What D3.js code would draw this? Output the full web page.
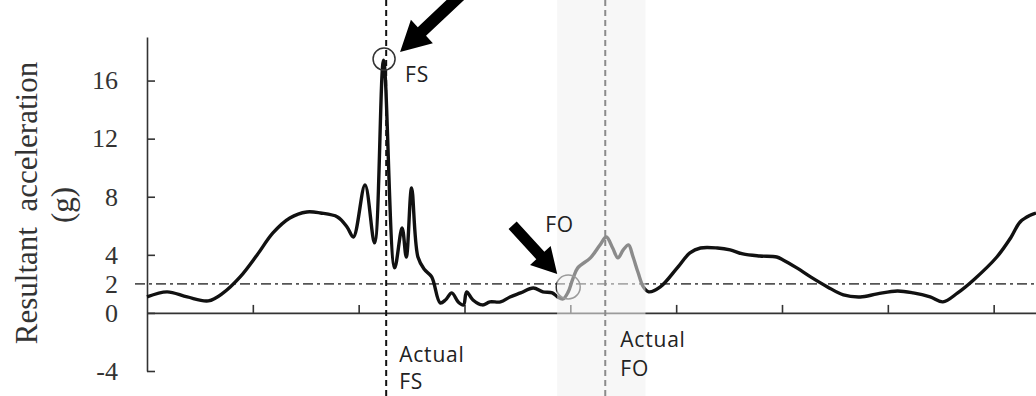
<!doctype html>
<html lang="en">
<head>
<meta charset="utf-8">
<title>Resultant acceleration</title>
<script src="https://cdn.jsdelivr.net/npm/d3@7"></script>
<style>
  body { margin: 0; background: #fff; }
  svg { display: block; }
</style>
</head>
<body>
<svg id="chart" width="1036" height="396"></svg>
<script>
// time (tick units) and resultant acceleration (g)
var times = [0, 0.19, 0.38, 0.58, 0.72, 0.88, 1.04, 1.19, 1.35, 1.51, 1.64, 1.80, 1.89, 1.95,
  2.06, 2.15, 2.235, 2.34, 2.41, 2.45, 2.50, 2.56, 2.62, 2.69, 2.77, 2.82, 2.88, 2.94, 2.99, 3.02,
  3.08, 3.17, 3.24, 3.34, 3.43, 3.53, 3.65, 3.74, 3.83, 3.88,
  3.93, 3.98, 4.02, 4.07, 4.19, 4.28, 4.34, 4.40, 4.45, 4.50, 4.55, 4.59, 4.64, 4.69, 4.74,
  4.85, 5.01, 5.13, 5.23, 5.39, 5.51, 5.63, 5.79, 5.95, 6.01, 6.14, 6.27, 6.43, 6.58, 6.74,
  6.90, 7.09, 7.24, 7.40, 7.52, 7.66, 7.81, 8.03, 8.16, 8.25, 8.35, 8.40];
var accel = [1.10, 1.45, 1.10, 0.83, 1.38, 2.48, 3.99, 5.51, 6.54, 6.95, 6.88, 6.61, 5.92, 5.23,
  8.81, 4.82, 17.4, 3.10, 5.85, 3.85, 8.60, 3.85, 3.00, 2.48, 0.69, 0.89, 1.38, 0.76, 0.55, 1.45,
  0.89, 0.55, 0.76, 0.76, 1.10, 1.38, 1.72, 1.45, 1.38, 1.10,
  0.96, 1.45, 2.27, 3.10, 3.79, 4.68, 5.23, 4.47, 3.79, 4.34, 4.68, 3.92, 2.78, 1.79, 1.45,
  1.79, 3.10, 4.13, 4.47, 4.47, 4.34, 4.06, 3.92, 3.85, 3.65, 3.10, 2.48, 1.79, 1.24, 1.10,
  1.31, 1.51, 1.38, 1.10, 0.76, 1.38, 2.27, 3.85, 5.16, 6.26, 6.74, 6.88];

var yTicks = [16, 12, 8, 4, 2, 0, -4];
var xTicks = [1, 2, 3, 4, 5, 6, 7, 8];
var threshold = 2;
var actualFS = 2.26, actualFO = 4.33;
var foWindow = [3.875, 4.71];
var detectedFS = [2.24, 17.48], detectedFO = [3.98, 1.79];

var svg = d3.select("#chart");
var x = d3.scaleLinear().domain([0, 8.4]).range([147, 1036]);
var y = d3.scaleLinear().domain([-4, 19]).range([371, 37]);
var data = times.map((t, i) => [t, accel[i]]);

// axes
var yAxis = svg.append("g").attr("transform", `translate(${x(0)},0)`)
  .call(d3.axisLeft(y).tickValues(yTicks).tickSize(-8).tickSizeOuter(0).tickPadding(29)
    .tickFormat(d => String(d)));
yAxis.selectAll(".tick").filter(d => d === 2).select("line").remove();
yAxis.selectAll(".tick text").attr("font-family", "'Liberation Serif', serif")
  .attr("font-size", 26).attr("fill", "#333");
var xAxis = svg.append("g").attr("transform", `translate(0,${y(0)})`)
  .call(d3.axisBottom(x).tickValues(xTicks).tickSize(-8).tickSizeOuter(0).tickFormat(""));
svg.selectAll(".domain, .tick line").attr("stroke", "#333").attr("stroke-width", 1.6);

// threshold line
svg.append("line").attr("x1", 135).attr("x2", 1036)
  .attr("y1", y(threshold)).attr("y2", y(threshold))
  .attr("stroke", "#555").attr("stroke-width", 1.6).attr("stroke-dasharray", "10,4,3,4");

// vertical event lines
[actualFS, actualFO].forEach(v => {
  svg.append("line").attr("x1", x(v)).attr("x2", x(v)).attr("y1", 0).attr("y2", 396)
    .attr("stroke", "#111").attr("stroke-width", 2).attr("stroke-dasharray", "6,4");
});

// curve
svg.append("path").datum(data)
  .attr("d", d3.line().x(d => x(d[0])).y(d => y(d[1])).curve(d3.curveCatmullRom.alpha(0.5)))
  .attr("fill", "none").attr("stroke", "#111").attr("stroke-width", 3.4)
  .attr("stroke-linejoin", "round");

// detection circles
svg.append("circle").attr("cx", x(detectedFS[0])).attr("cy", y(detectedFS[1])).attr("r", 11)
  .attr("fill", "none").attr("stroke", "#333").attr("stroke-width", 1.5);
svg.append("circle").attr("cx", x(detectedFO[0])).attr("cy", y(detectedFO[1])).attr("r", 12)
  .attr("fill", "none").attr("stroke", "#333").attr("stroke-width", 1.5);

// foot-off window, washes out what is under it
svg.append("rect").attr("x", x(foWindow[0])).attr("width", x(foWindow[1]) - x(foWindow[0]))
  .attr("y", 0).attr("height", 396).attr("fill", "#f0f0f0").attr("opacity", 0.55);

// arrows
function arrow(tx, ty, angle, len, headLen, headW, shaftW) {
  var pts = [[0, 0], [-headLen, headW], [-headLen, shaftW / 2], [-len, shaftW / 2],
    [-len, -shaftW / 2], [-headLen, -shaftW / 2], [-headLen, -headW]];
  svg.append("path").attr("d", "M" + pts.join("L") + "Z")
    .attr("transform", `translate(${tx},${ty}) rotate(${angle})`).attr("fill", "#000");
}
arrow(x(detectedFS[0]) + 16, y(detectedFS[1]) - 7, 136.7, 95, 30, 16, 12);
arrow(x(detectedFO[0]) - 11, y(detectedFO[1]) - 13, 47.5, 66, 25, 14, 11);

// labels
var sans = "'Open Sans', sans-serif";
function label(tx, ty, s) {
  svg.append("text").attr("x", tx).attr("y", ty).text(s)
    .attr("font-family", sans).attr("font-size", 21).attr("letter-spacing", 0.8).attr("fill", "#222");
}
label(x(detectedFS[0]) + 21, y(detectedFS[1]) + 23, "FS");
label(x(detectedFO[0]) - 23, y(detectedFO[1]) - 55, "FO");
label(x(actualFS) + 13, 362, "Actual");
label(x(actualFS) + 13, 389, "FS");
label(x(actualFO) + 15, 347, "Actual");
label(x(actualFO) + 15, 376, "FO");

// y axis title
var serif = "'Liberation Serif', serif";
svg.append("text").attr("transform", "translate(37,203) rotate(-90)").attr("text-anchor", "middle")
  .attr("font-family", serif).attr("font-size", 31).attr("fill", "#333")
  .attr("xml:space", "preserve").text("Resultant  acceleration");
svg.append("text").attr("transform", "translate(73,205) rotate(-90)").attr("text-anchor", "middle")
  .attr("font-family", serif).attr("font-size", 31).attr("fill", "#333").text("(g)");
</script>
</body>
</html>
